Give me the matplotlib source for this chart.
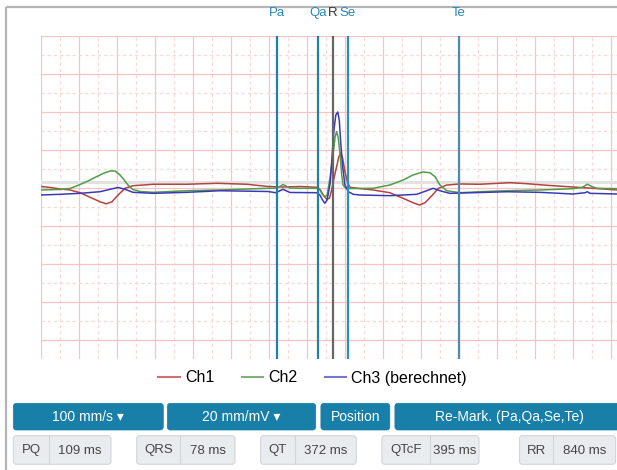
import matplotlib
matplotlib.use('Agg')
import matplotlib.pyplot as plt
from matplotlib.patches import FancyBboxPatch
from matplotlib.lines import Line2D

plt.rcParams['font.family'] = ['Liberation Sans', 'DejaVu Sans']

# ---------------- data (time in ms, amplitude in mV) ----------------
t_ch1 = [0, 24, 50, 76, 103, 129, 155, 171, 186, 203, 221, 242, 295, 384, 463, 542, 597, 637,
         682, 726, 734, 743, 752, 759, 765, 771, 778, 784, 789, 794, 800, 806, 813, 839, 874,
         918, 953, 979, 996, 1011, 1028, 1046, 1068, 1103, 1155, 1234, 1278, 1331, 1400, 1453, 1516]
v_ch1 = [0.020, 0.007, -0.013, -0.026, -0.062, -0.122, -0.180, -0.208, -0.184, -0.092, -0.004,
         0.030, 0.049, 0.049, 0.062, 0.049, 0.020, 0.013, 0.020, 0.009, -0.017, -0.092, -0.149,
         -0.136, -0.026, 0.128, 0.280, 0.412, 0.464, 0.391, 0.214, 0.083, 0.009, -0.007, -0.026,
         -0.062, -0.136, -0.193, -0.224, -0.193, -0.105, -0.004, 0.039, 0.053, 0.049, 0.070,
         0.057, 0.036, 0.013, -0.004, -0.026]

t_ch2 = [0, 50, 76, 103, 129, 147, 166, 182, 195, 208, 218, 229, 242, 261, 295, 384, 471, 597,
         618, 629, 637, 645, 655, 682, 726, 734, 741, 747, 753, 761, 768, 774, 778, 782, 787,
         791, 795, 803, 813, 874, 918, 953, 979, 1005, 1024, 1037, 1050, 1068, 1103, 1155,
         1226, 1313, 1400, 1424, 1438, 1450, 1463, 1516]
v_ch2 = [-0.026, -0.020, -0.007, 0.046, 0.105, 0.151, 0.197, 0.224, 0.224, 0.171, 0.112, 0.039,
         -0.020, -0.046, -0.057, -0.036, -0.026, -0.004, 0.000, 0.020, 0.046, 0.026, 0.000,
         -0.004, -0.004, -0.026, -0.086, -0.118, -0.092, 0.145, 0.412, 0.671, 0.741, 0.671,
         0.457, 0.193, 0.039, -0.007, -0.007, -0.004, 0.039, 0.105, 0.171, 0.211, 0.201, 0.149,
         0.039, -0.036, -0.062, -0.049, -0.036, -0.026, -0.009, 0.007, 0.049, 0.020, -0.004,
         -0.009]

t_ch3 = [0, 50, 103, 155, 182, 203, 221, 242, 295, 384, 471, 597, 618, 637, 655, 726, 734, 741,
         747, 753, 761, 766, 771, 776, 781, 785, 789, 794, 800, 809, 822, 839, 918, 989, 1015,
         1032, 1050, 1076, 1137, 1226, 1313, 1400, 1432, 1438, 1445, 1516]
v_ch3 = [-0.092, -0.083, -0.070, -0.049, -0.017, 0.007, -0.017, -0.057, -0.070, -0.057, -0.036,
         -0.046, -0.062, -0.017, -0.059, -0.062, -0.092, -0.158, -0.201, -0.158, 0.062, 0.412,
         0.763, 0.961, 1.000, 0.895, 0.588, 0.280, 0.039, -0.049, -0.083, -0.092, -0.101,
         -0.083, -0.036, -0.004, -0.036, -0.070, -0.062, -0.049, -0.057, -0.079, -0.062, -0.049,
         -0.070, -0.079]

channel_names = ['Ch1', 'Ch2', 'Ch3 (berechnet)']

marker_names = ['Pa', 'Qa', 'R', 'Se', 'Te']
marker_times = [621, 730, 768, 807, 1100]

button_labels = ['100 mm/s \u25BE', '20 mm/mV \u25BE', 'Position', 'Re-Mark. (Pa,Qa,Se,Te)']
interval_names = ['PQ', 'QRS', 'QT', 'QTcF', 'RR']
interval_values = [109, 78, 372, 395, 840]

# ---------------- styles ----------------
ch_colors = ['#b5433f', '#4f9d48', '#3a3ab8']
legend_colors = ['#c87272', '#7fb078', '#7676cc']
marker_colors = ['#1f80ae', '#1f80ae', '#666666', '#2b8dc0', '#4f8ab2']
label_colors = ['#2a85b4', '#2a85b4', '#333333', '#2a85b4', '#2a85b4']
btn_color = '#187fa9'

W, H = 617, 470
fig = plt.figure(figsize=(W / 100, H / 100), dpi=100)
fig.patch.set_facecolor('white')

# overlay in pixel coordinates for UI decoration
ov = fig.add_axes([0, 0, 1, 1])
ov.set_xlim(0, W)
ov.set_ylim(H, 0)
ov.axis('off')

# frame
ov.plot([6, 6], [7.3, H], color='#b5b5b5', lw=1.6, solid_capstyle='butt')
ov.plot([6, W], [7.3, 7.3], color='#b5b5b5', lw=1.6, solid_capstyle='butt')

# ---------------- ECG axes ----------------
gl, gr, gt, gb = 41, 617, 36, 359
ax = fig.add_axes([gl / W, (H - gb) / H, (gr - gl) / W, (gb - gt) / H])
for s in ax.spines.values():
    s.set_visible(False)
ax.tick_params(which='both', length=0, labelbottom=False, labelleft=False)
ax.set_xticks([i * 100 for i in range(16)])
ax.set_xticks([50 + i * 100 for i in range(15)], minor=True)
ax.set_yticks([-2.0 + 0.5 * i for i in range(9)])
ax.set_yticks([-2.25 + 0.5 * i for i in range(9)], minor=True)
ax.set_xlim(0, 1516)
ax.set_ylim(-2.25, 2.0)
ax.grid(which='major', color='#f8c3c3', lw=0.9)
ax.grid(which='minor', color='#fad6d6', lw=0.9, ls=(0, (2.5, 2.5)))
ax.set_axisbelow(True)

ax.axhline(0.08, color='#e2e2e2', lw=2.2, zorder=1.5)

ax.plot(t_ch1, v_ch1, color=ch_colors[0], lw=1.1, zorder=3)
ax.plot(t_ch2, v_ch2, color=ch_colors[1], lw=1.1, zorder=3)
ax.plot(t_ch3, v_ch3, color=ch_colors[2], lw=1.1, zorder=3)

for name, t, c, lc in zip(marker_names, marker_times, marker_colors, label_colors):
    ax.axvline(t, color=c, lw=1.6, zorder=4)
    ax.text(t, (gb - 13) / (gb - gt), name, transform=ax.get_xaxis_transform(),
            ha='center', va='center', fontsize=9.5, color=lc, clip_on=False)

handles = [Line2D([], [], color=c, lw=1.5) for c in legend_colors]
ax.legend(handles, channel_names, loc='center', bbox_to_anchor=(312.5 / W, (H - 378) / H),
          bbox_transform=fig.transFigure, ncol=3, frameon=False, fontsize=11.5,
          handlelength=1.33, handletextpad=0.32, columnspacing=1.72)

# ---------------- buttons ----------------
btn_x = [(13.3, 163.3), (167.3, 315.7), (320.9, 389.8), (394.9, 624)]
by0, by1 = 403.3, 430
for (x0, x1), lab in zip(btn_x, button_labels):
    ov.add_patch(FancyBboxPatch((x0, by0), x1 - x0, by1 - by0,
                                boxstyle='round,pad=0,rounding_size=3',
                                fc=btn_color, ec=btn_color, lw=0.5))
    cx = (x0 + x1) / 2
    ov.text(cx, (by0 + by1) / 2 + 0.5, lab, ha='center', va='center', color='white',
            fontsize=10)

box_x = [(13.3, 49.3, 111), (136.7, 180, 235), (260.6, 295.3, 356.3),
         (381.9, 430.3, 479), (519.5, 553, 615.6)]
ry0, ry1 = 435.7, 464.3
for (x0, xd, x1), nm, val in zip(box_x, interval_names, interval_values):
    ov.add_patch(FancyBboxPatch((x0, ry0), x1 - x0, ry1 - ry0,
                                boxstyle='round,pad=0,rounding_size=3',
                                fc='#e9ecef', ec='#d2d6da', lw=0.8))
    ov.plot([xd, xd], [ry0, ry1], color='#d2d6da', lw=0.8)
    ym = (ry0 + ry1) / 2 + 0.5
    ov.text((x0 + xd) / 2, ym, nm, ha='center', va='center', fontsize=9.5, color='#454545')
    ov.text((xd + x1) / 2, ym, f'{val} ms', ha='center', va='center', fontsize=9.5,
            color='#454545')

fig.savefig('out.png', dpi=100, facecolor='white')
